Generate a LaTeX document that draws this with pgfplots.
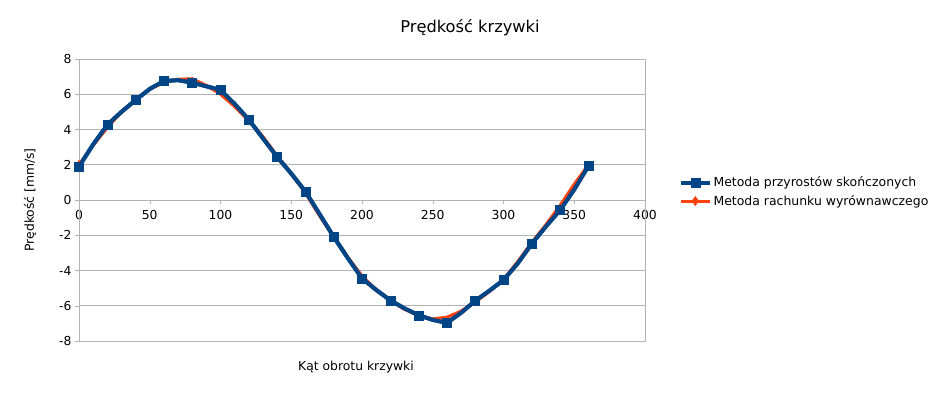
\documentclass[border=0pt]{standalone}
\usepackage{pgfplots}
\pgfplotsset{compat=1.18}
\usepackage{fontspec}
\setmainfont{DejaVu Sans}
\definecolor{lblue}{HTML}{004586}
\definecolor{lorange}{HTML}{FF420E}
\definecolor{lgrid}{HTML}{B3B3B3}
\begin{document}
\begin{tikzpicture}[x=1bp,y=1bp]
\useasboundingbox (0,0) rectangle (939,393);
\begin{axis}[
  at={(79bp,52bp)}, anchor=south west,
  scale only axis, width=566bp, height=282bp,
  xmin=0, xmax=400, ymin=-8, ymax=8,
  xtick={0,50,...,400}, ytick={-8,-6,...,8},
  axis x line=middle, axis y line=left,
  hide obscured x ticks=false, hide obscured y ticks=false,
  axis line style={lgrid, -},
  x axis line style={lgrid},
  every tick/.style={lgrid},
  major tick length=4bp,
  tick align=outside,
  ymajorgrids, grid style={lgrid, line width=0.8bp},
  tick label style={font=\fontsize{12.4}{14}\selectfont, black},
  xticklabel style={yshift=-3bp},
  /pgf/number format/assume math mode=true,
  /pgf/number format/.cd, 1000 sep={}, /pgfplots/.cd,
  clip=false,
  legend style={at={(rel axis cs:1.06,0.59)}, anchor=north west, draw=none, fill=none,
    font=\fontsize{12.5}{14}\selectfont, row sep=3bp, inner sep=0pt},
  legend cell align=left,
  legend image code/.code={
    \draw[#1, mark repeat=2, mark phase=2] plot coordinates {(0cm,0cm) (0.5cm,0cm) (1cm,0cm)};
  },
]
\draw[lgrid, line width=0.8bp] (rel axis cs:0,0) rectangle (rel axis cs:1,1);
\addplot[lblue, line width=4bp, mark=square*, mark size=4.5bp, mark repeat=2,
  mark options={solid, line width=0.5bp}] coordinates {
(0,1.9) (10,3.15) (20,4.26) (30,5.0) (40,5.67) (50,6.3) (60,6.75) (70,6.8) (80,6.66)
(90,6.45) (100,6.24) (110,5.45) (120,4.56) (130,3.5) (140,2.45) (150,1.5) (160,0.48)
(170,-0.8) (180,-2.09) (190,-3.3) (200,-4.44) (210,-5.1) (220,-5.69) (230,-6.15)
(240,-6.54) (250,-6.8) (260,-6.97) (270,-6.4) (280,-5.72) (290,-5.15) (300,-4.54)
(310,-3.6) (320,-2.48) (330,-1.5) (340,-0.57) (350,0.6) (360,1.93)
};
\addlegendentry{Metoda przyrostów skończonych}
\addplot[lorange, line width=3bp, mark=diamond*, mark size=2.5bp, mark repeat=100,
  mark options={solid}, forget plot] coordinates {
(0,2.0) (10,3.1) (20,4.1) (30,5.0) (40,5.7) (50,6.3) (60,6.65) (70,6.85) (80,6.88)
(90,6.5) (100,6.0) (110,5.3) (120,4.5) (130,3.6) (140,2.5) (150,1.5) (160,0.4)
(170,-0.9) (180,-2.1) (190,-3.25) (200,-4.3) (210,-5.1) (220,-5.7) (230,-6.2)
(240,-6.55) (250,-6.75) (260,-6.65) (270,-6.3) (280,-5.8) (290,-5.2) (300,-4.5)
(310,-3.5) (320,-2.4) (330,-1.4) (340,-0.3) (350,0.9) (360,2.0)
};
\addlegendimage{lorange, line width=3bp, mark=diamond*, mark size=2.5bp}
\addlegendentry{Metoda rachunku wyrównawczego}
\addplot[lblue, line width=4bp, mark=square*, mark size=4.5bp, mark repeat=2,
  mark options={solid, line width=0.5bp}, forget plot] coordinates {
(0,1.9) (10,3.15) (20,4.26) (30,5.0) (40,5.67) (50,6.3) (60,6.75) (70,6.8) (80,6.66)
(90,6.45) (100,6.24) (110,5.45) (120,4.56) (130,3.5) (140,2.45) (150,1.5) (160,0.48)
(170,-0.8) (180,-2.09) (190,-3.3) (200,-4.44) (210,-5.1) (220,-5.69) (230,-6.15)
(240,-6.54) (250,-6.8) (260,-6.97) (270,-6.4) (280,-5.72) (290,-5.15) (300,-4.54)
(310,-3.6) (320,-2.48) (330,-1.5) (340,-0.57) (350,0.6) (360,1.93)
};
\end{axis}
\node[font=\fontsize{16.3}{18}\selectfont] at (470,365) {Prędkość krzywki};
\node[font=\fontsize{12.4}{14}\selectfont, rotate=90] at (30,193) {Prędkość [mm/s]};
\node[font=\fontsize{12.4}{14}\selectfont] at (356,26) {Kąt obrotu krzywki};
\end{tikzpicture}
\end{document}
